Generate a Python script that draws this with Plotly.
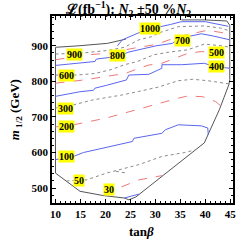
import plotly.graph_objects as go

# ---- data ----
boundary_x = [24.1, 20.4, 14.5, 10.0, 10.0, 14.9, 19.5, 23.8, 24.7, 26.1, 39.8, 40.1, 42.8, 44.7, 44.9, 44.9, 44.3, 39.8, 35.2]
boundary_y = [919, 907, 900, 896, 542, 491, 479, 472, 467, 475, 627, 636, 720, 790, 805, 958, 970, 973, 973]

blue_1000_x = [22.4, 23.4, 26.7, 30.0, 33.0, 35.2, 40.0, 44.6]
blue_1000_y = [900, 917, 937, 951, 960, 968, 968, 955]

gray_900_x = [10.0, 15.5, 20.4, 23.8, 26.7, 29.3, 30.6, 34.6, 39.8, 43.1, 44.9]
gray_900_y = [877, 880, 887, 896, 917, 926, 936, 954, 956, 950, 942]

red_top_x = [10.0, 12.0, 16.6, 21.2, 25.1, 29.7, 30.6, 34.6, 38.5, 40.5, 43.0, 44.9]
red_top_y = [861, 865, 875, 880, 892, 903, 906, 926, 938, 944, 938, 933]

blue_800_x = [10.0, 14.6, 17.9, 18.2, 21.2, 23.8, 24.5, 30.1, 33.4, 34.6, 36.5, 39.2, 41.5, 44.9]
blue_800_y = [845, 852, 856, 863, 868, 877, 882, 900, 907, 918, 926, 934, 928, 917]

gray_600_x = [10.0, 14.2, 17.8, 21.1, 23.8, 26.4, 29.7, 32.6, 36.5, 39.8, 43.4, 44.9]
gray_600_y = [818, 818, 822, 833, 847, 856, 875, 882, 889, 905, 900, 896]

red_mid_x = [10.0, 15.6, 20.2, 24.1, 26.7, 28.7, 31.3, 36.5, 39.2, 44.9]
red_mid_y = [795, 804, 814, 823, 837, 846, 851, 879, 884, 879]

blue_400_x = [10.0, 14.9, 17.6, 17.9, 20.2, 24.2, 24.7, 28.7, 31.3, 31.3, 35.3, 39.8, 41.8, 44.9]
blue_400_y = [758, 771, 775, 781, 789, 804, 818, 820, 837, 847, 847, 851, 842, 837]

gray_300_x = [10.0, 13.6, 17.5, 23.4, 26.7, 30.6, 34.6, 37.5, 40.5, 44.1, 44.8]
gray_300_y = [725, 734, 748, 762, 772, 784, 802, 806, 802, 795, 793]

red_200_x = [10.0, 13.6, 20.2, 26.1, 30.6, 34.6, 36.5, 39.5, 42.1, 43.1]
red_200_y = [672, 678, 697, 720, 739, 753, 759, 757, 743, 731]

blue_100_x = [10.0, 13.6, 15.6, 20.2, 25.4, 25.7, 31.3, 32.0, 34.6, 39.2, 40.5, 40.6]
blue_100_y = [580, 589, 600, 615, 631, 640, 654, 664, 678, 675, 669, 650]

gray_50_x = [12.2, 16.2, 20.2, 24.1, 26.7, 31.3, 35.9, 37.9]
gray_50_y = [520, 523, 542, 556, 566, 589, 600, 607]

gray_50b_x = [22.1, 24.4]
gray_50b_y = [547, 542]

red_30_x = [19.8, 22.1, 26.7, 31.3]
red_30_y = [487, 497, 523, 535]

blue_low_x = [23.8, 26.7]
blue_low_y = [472, 483]

label_text = ["1000", "900", "800", "700", "600", "500", "400", "300", "200", "100", "50", "30"]
label_x = [28.9, 13.8, 22.4, 35.4, 12.3, 42.3, 42.3, 12.0, 12.2, 12.2, 14.8, 20.7]
label_y = [950, 875, 873, 914, 818, 882, 842, 725, 672, 589, 521, 495]

x_ticks = [10, 15, 20, 25, 30, 35, 40, 45]
y_ticks = [500, 600, 700, 800, 900]

# ---- styles ----
BLUE = "#5b66f2"
RED = "#f07878"
GRAY = "#8a8a8a"
DARK = "#555555"

fig = go.Figure()

def add(x, y, color, dash, width=1.0):
    fig.add_trace(go.Scatter(x=x, y=y, mode="lines",
                             line=dict(color=color, dash=dash, width=width),
                             hoverinfo="skip", showlegend=False))

add(boundary_x, boundary_y, DARK, "solid", 1.0)
add(blue_1000_x, blue_1000_y, BLUE, "solid")
add(gray_900_x, gray_900_y, GRAY, "dot")
add(red_top_x, red_top_y, RED, "dash")
add(blue_800_x, blue_800_y, BLUE, "solid")
add(gray_600_x, gray_600_y, GRAY, "dot")
add(red_mid_x, red_mid_y, RED, "dash")
add(blue_400_x, blue_400_y, BLUE, "solid")
add(gray_300_x, gray_300_y, GRAY, "dot")
add(red_200_x, red_200_y, RED, "dash")
add(blue_100_x, blue_100_y, BLUE, "solid")
add(gray_50_x, gray_50_y, GRAY, "dot")
add(gray_50b_x, gray_50b_y, GRAY, "dot")
add(red_30_x, red_30_y, RED, "dash")
add(blue_low_x, blue_low_y, BLUE, "solid")

SERIF = "Liberation Serif"

for t, lx, ly in zip(label_text, label_x, label_y):
    fig.add_annotation(x=lx, y=ly, text="<b>" + t + "</b>", showarrow=False,
                       font=dict(family=SERIF, size=10, color="black"),
                       bgcolor="#ffff00", borderpad=0)

axis_common = dict(showline=True, linecolor="black", linewidth=1.5, mirror="ticks",
                   ticks="inside", ticklen=4, tickwidth=1, tickcolor="black",
                   showgrid=False, zeroline=False,
                   tickfont=dict(family=SERIF, size=11, color="black"))

fig.update_xaxes(range=[9.3, 45.55], tickvals=x_ticks,
                 ticktext=["<b>%d</b>" % v for v in x_ticks],
                 minor=dict(dtick=1, ticks="inside", ticklen=2, tickcolor="black"),
                 **axis_common)
fig.update_yaxes(range=[458, 984], tickvals=y_ticks,
                 ticktext=["<b>%d</b>" % v for v in y_ticks],
                 minor=dict(dtick=20, ticks="inside", ticklen=2, tickcolor="black"),
                 **axis_common)

fig.add_annotation(xref="paper", yref="paper", x=0.418, y=1.035, yanchor="middle", xanchor="center",
                   text="<b>ℒ(fb<sup>−1</sup>): <i>N</i><sub>2</sub> ±50 %<i>N</i><sub>2</sub></b>",
                   showarrow=False, font=dict(family=SERIF, size=14, color="black"))
fig.add_annotation(xref="paper", yref="paper", x=0.495, y=-0.155, yanchor="middle", xanchor="center",
                   text="<b>tan<i>β</i></b>", showarrow=False,
                   font=dict(family=SERIF, size=13, color="black"))
fig.add_annotation(xref="paper", yref="paper", x=-0.2, y=0.5, textangle=-90,
                   xanchor="center", yanchor="middle",
                   text="<b><i>m</i><sub> 1/2</sub> (GeV)</b>", showarrow=False,
                   font=dict(family=SERIF, size=13, color="black"))

fig.update_layout(width=240, height=244, margin=dict(l=52, r=4, t=16, b=41),
                  paper_bgcolor="white", plot_bgcolor="white")

fig.write_html("out.html", config={"displayModeBar": False},
               post_script="document.body.style.margin='0';document.body.style.overflow='hidden';")
